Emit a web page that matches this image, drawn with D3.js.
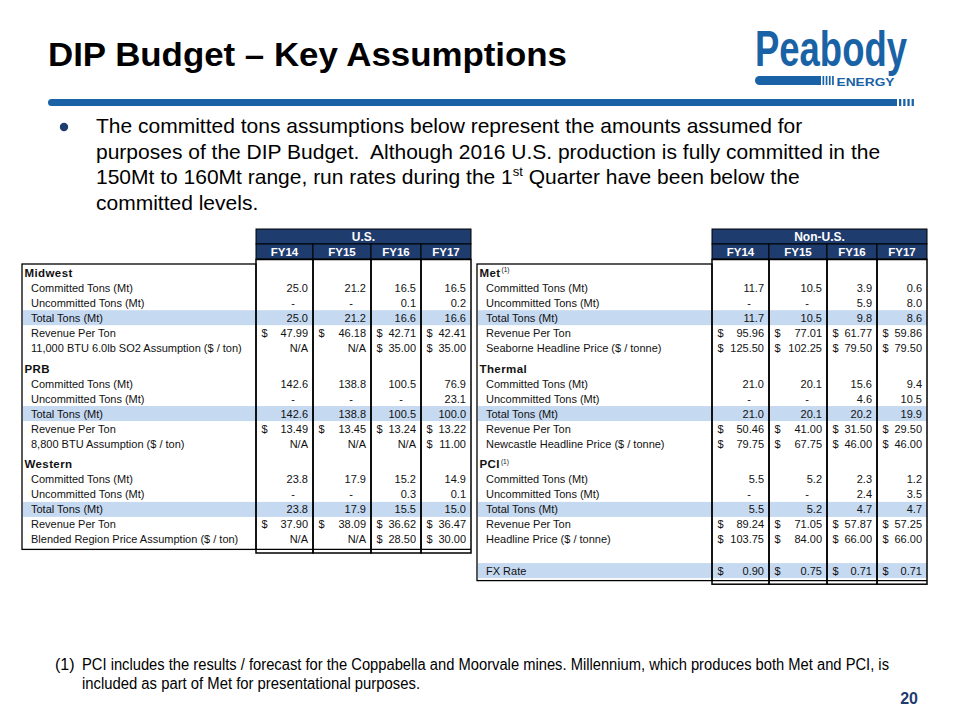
<!DOCTYPE html>
<html><head><meta charset="utf-8">
<script src="https://cdn.jsdelivr.net/npm/d3@7"></script>
<style>
body{margin:0;background:#fff}
svg{display:block}
text{font-family:"Liberation Sans",Arial,Helvetica,sans-serif;white-space:pre}
</style>
</head><body>
<script>
// ---------------- DATA ----------------
const years = ["FY14", "FY15", "FY16", "FY17"];
const tableTitles = ["U.S.", "Non-U.S."];

const usRegions = ["Midwest", "PRB", "Western"];
const usPriceLabels = ["11,000 BTU 6.0lb SO2 Assumption ($ / ton)", "8,800 BTU Assumption ($ / ton)", "Blended Region Price Assumption ($ / ton)"];
const midwestCommitted = [25.0, 21.2, 16.5, 16.5];
const midwestUncommitted = [0, 0, 0.1, 0.2];
const midwestTotal = [25.0, 21.2, 16.6, 16.6];
const midwestRevenue = [47.99, 46.18, 42.71, 42.41];
const midwestPrice = [null, null, 35.00, 35.00];
const prbCommitted = [142.6, 138.8, 100.5, 76.9];
const prbUncommitted = [0, 0, 0, 23.1];
const prbTotal = [142.6, 138.8, 100.5, 100.0];
const prbRevenue = [13.49, 13.45, 13.24, 13.22];
const prbPrice = [null, null, null, 11.00];
const westernCommitted = [23.8, 17.9, 15.2, 14.9];
const westernUncommitted = [0, 0, 0.3, 0.1];
const westernTotal = [23.8, 17.9, 15.5, 15.0];
const westernRevenue = [37.90, 38.09, 36.62, 36.47];
const westernPrice = [null, null, 28.50, 30.00];

const nonUsRegions = ["Met", "Thermal", "PCI"];
const nonUsNotes = ["(1)", "", "(1)"];
const nonUsPriceLabels = ["Seaborne Headline Price ($ / tonne)", "Newcastle Headline Price ($ / tonne)", "Headline Price ($ / tonne)"];
const metCommitted = [11.7, 10.5, 3.9, 0.6];
const metUncommitted = [0, 0, 5.9, 8.0];
const metTotal = [11.7, 10.5, 9.8, 8.6];
const metRevenue = [95.96, 77.01, 61.77, 59.86];
const metPrice = [125.50, 102.25, 79.50, 79.50];
const thermalCommitted = [21.0, 20.1, 15.6, 9.4];
const thermalUncommitted = [0, 0, 4.6, 10.5];
const thermalTotal = [21.0, 20.1, 20.2, 19.9];
const thermalRevenue = [50.46, 41.00, 31.50, 29.50];
const thermalPrice = [79.75, 67.75, 46.00, 46.00];
const pciCommitted = [5.5, 5.2, 2.3, 1.2];
const pciUncommitted = [0, 0, 2.4, 3.5];
const pciTotal = [5.5, 5.2, 4.7, 4.7];
const pciRevenue = [89.24, 71.05, 57.87, 57.25];
const pciPrice = [103.75, 84.00, 66.00, 66.00];
const fxRate = [0.90, 0.75, 0.71, 0.71];

const titleText = "DIP Budget \u2013 Key Assumptions";
const bulletLines = [
  ["The committed tons assumptions below represent the amounts assumed for"],
  ["purposes of the DIP Budget.  Although 2016 U.S. production is fully committed in the"],
  ["150Mt to 160Mt range, run rates during the 1", "st", " Quarter have been below the"],
  ["committed levels."]
];
const footnoteMark = "(1)";
const footnoteLines = [
  "PCI includes the results / forecast for the Coppabella and Moorvale mines. Millennium, which produces both Met and PCI, is",
  "included as part of Met for presentational purposes."
];
const pageNumber = "20";

// ---------------- LAYOUT / STYLE ----------------
const W = 960, H = 720;
const BLUE = "#1a62a6", NAVY = "#1f3c6e", BAND = "#c5d9f1";

const svg = d3.select("body").append("svg").attr("width", W).attr("height", H);

// Title
svg.append("text").attr("x", 48).attr("y", 66)
  .attr("font-size", 34).attr("font-weight", "bold").attr("fill", "#000")
  .attr("textLength", 519).attr("lengthAdjust", "spacingAndGlyphs")
  .text(titleText);

// Logo
const logo = svg.append("g");
const wordG = logo.append("g");
const word = wordG.append("text").attr("x", 0).attr("y", 0)
  .attr("font-size", 50).attr("font-weight", "bold").attr("fill", BLUE)
  .text("Peabody");
const natW = word.node().getComputedTextLength() || 208;
wordG.attr("transform", `translate(755,65.5) scale(${152 / natW},1)`);
logo.append("path").attr("fill", BLUE)
  .attr("d", "M759.5,76 H821 V85 H759.5 A4.5,4.5 0 0 1 759.5,76 Z");
d3.range(4).forEach(i => logo.append("rect").attr("x", 822.5 + i * 3.2).attr("y", 76)
  .attr("width", 1.7).attr("height", 9).attr("fill", BLUE));
logo.append("text").attr("x", 836.5).attr("y", 85.5)
  .attr("font-size", 11).attr("font-weight", "bold").attr("fill", BLUE)
  .attr("textLength", 58).attr("lengthAdjust", "spacingAndGlyphs")
  .text("ENERGY");

// Rule bar
svg.append("path").attr("fill", BLUE)
  .attr("d", "M51.5,99 H897 V106 H51.5 A3.5,3.5 0 0 1 51.5,99 Z");
d3.range(4).forEach(i => svg.append("rect").attr("x", 899 + i * 4.2).attr("y", 99)
  .attr("width", 2.3).attr("height", 7).attr("fill", BLUE));

// Bullet
svg.append("circle").attr("cx", 64).attr("cy", 127).attr("r", 4.2).attr("fill", NAVY);
const bulletY = d3.scaleLinear().domain([0, 1]).range([133, 158.5]);
bulletLines.forEach((parts, i) => {
  const t = svg.append("text").attr("x", 96).attr("y", bulletY(i))
    .attr("font-size", 21).attr("fill", "#000");
  parts.forEach((p, j) => {
    const ts = t.append("tspan").text(p);
    if (parts.length === 3 && j === 1) ts.attr("font-size", 13).attr("dy", -8);
    if (parts.length === 3 && j === 2) ts.attr("dy", 8);
  });
});

// ---------------- TABLES ----------------
function sectionRows(name, note, committed, uncommitted, total, revenue, priceLabel, price) {
  return [
    {type: "section", label: name, note: note},
    {type: "item", label: "Committed Tons (Mt)", values: committed, fmt: "tons"},
    {type: "item", label: "Uncommitted Tons (Mt)", values: uncommitted, fmt: "tons"},
    {type: "total", label: "Total Tons (Mt)", values: total, fmt: "tons"},
    {type: "item", label: "Revenue Per Ton", values: revenue, fmt: "usd"},
    {type: "item", label: priceLabel, values: price, fmt: "usd"}
  ];
}
const usRows = [].concat(
  sectionRows(usRegions[0], "", midwestCommitted, midwestUncommitted, midwestTotal, midwestRevenue, usPriceLabels[0], midwestPrice),
  sectionRows(usRegions[1], "", prbCommitted, prbUncommitted, prbTotal, prbRevenue, usPriceLabels[1], prbPrice),
  sectionRows(usRegions[2], "", westernCommitted, westernUncommitted, westernTotal, westernRevenue, usPriceLabels[2], westernPrice)
);
const nonUsRows = [].concat(
  sectionRows(nonUsRegions[0], nonUsNotes[0], metCommitted, metUncommitted, metTotal, metRevenue, nonUsPriceLabels[0], metPrice),
  sectionRows(nonUsRegions[1], nonUsNotes[1], thermalCommitted, thermalUncommitted, thermalTotal, thermalRevenue, nonUsPriceLabels[1], thermalPrice),
  sectionRows(nonUsRegions[2], nonUsNotes[2], pciCommitted, pciUncommitted, pciTotal, pciRevenue, nonUsPriceLabels[2], pciPrice),
  [{type: "spacer"}, {type: "total", label: "FX Rate", values: fxRate, fmt: "usd"}]
);

const colLeft = d3.scaleOrdinal(years, [0, 57, 115, 165]);
const colWidth = d3.scaleOrdinal(years, [57, 58, 50, 50]);
const colsWidth = 215;
const rowY = d3.scaleLinear().domain([0, 1]).range([272.7, 287.7]);
const sectionGap = 0.39;
const fmtTons = d3.format(".1f"), fmtUsd = d3.format(".2f");

function drawTable(title, rows, boxX, colsX) {
  const g = svg.append("g");
  let slot = 0, sec = -1;
  rows.forEach(r => {
    if (r.type === "section") sec++;
    r.y = rowY(slot + Math.max(sec, 0) * sectionGap + (r.label === "FX Rate" ? 0.08 : 0));
    slot++;
  });
  const lastY = rows[rows.length - 1].y;
  const boxTop = 264, boxBottom = lastY + 10;
  const colTop = 259.5, colBottom = boxBottom + 3.6;

  g.selectAll("rect.band").data(rows.filter(r => r.type === "total")).join("rect")
    .attr("x", boxX + 1).attr("y", r => r.y - 7.5)
    .attr("width", colsX + colsWidth - boxX - 1).attr("height", 15)
    .attr("fill", BAND);

  g.append("rect").attr("x", boxX).attr("y", boxTop)
    .attr("width", colsX - boxX).attr("height", boxBottom - boxTop)
    .attr("fill", "none").attr("stroke", "#000").attr("stroke-width", 1.3);

  g.append("rect").attr("x", colsX).attr("y", 229).attr("width", colsWidth).attr("height", 15)
    .attr("fill", NAVY).attr("stroke", "#000").attr("stroke-width", 1);
  g.append("text").attr("x", colsX + colsWidth / 2).attr("y", 240.6)
    .attr("text-anchor", "middle").attr("font-size", 12).attr("font-weight", "bold")
    .attr("fill", "#fff").text(title);
  g.selectAll("rect.fy").data(years).join("rect")
    .attr("x", d => colsX + colLeft(d)).attr("y", 244)
    .attr("width", d => colWidth(d)).attr("height", 15)
    .attr("fill", NAVY).attr("stroke", "#000").attr("stroke-width", 1);
  g.selectAll("text.fy").data(years).join("text")
    .attr("x", d => colsX + colLeft(d) + colWidth(d) / 2).attr("y", 255.6)
    .attr("text-anchor", "middle").attr("font-size", 11.5).attr("font-weight", "bold")
    .attr("fill", "#fff").text(d => d);

  g.selectAll("rect.col").data(years).join("rect")
    .attr("x", d => colsX + colLeft(d)).attr("y", colTop)
    .attr("width", d => colWidth(d)).attr("height", colBottom - colTop)
    .attr("fill", "none").attr("stroke", "#000").attr("stroke-width", 1.5);
  g.selectAll("line.colb").data(years).join("line")
    .attr("x1", d => colsX + colLeft(d)).attr("x2", d => colsX + colLeft(d) + colWidth(d))
    .attr("y1", boxBottom).attr("y2", boxBottom)
    .attr("stroke", "#000").attr("stroke-width", 1.3);

  rows.filter(r => r.label).forEach(r => {
    const t = g.append("text").attr("y", r.y + 4).attr("fill", "#111");
    if (r.type === "section") {
      t.attr("x", boxX + 2.5).attr("font-size", 11.5).attr("font-weight", "bold")
        .attr("letter-spacing", 0.4).text(r.label);
      if (r.note) t.append("tspan").attr("font-size", 6.5).attr("font-weight", "normal")
        .attr("dy", -4.5).attr("dx", 1).attr("letter-spacing", 0).text(r.note);
    } else {
      t.attr("x", boxX + 9).attr("font-size", 11).text(r.label);
    }
  });

  rows.filter(r => r.values).forEach(r => {
    years.forEach((yr, i) => {
      const v = r.values[i];
      const x0 = colsX + colLeft(yr), x1 = x0 + colWidth(yr);
      const base = r.y + 4;
      if (r.fmt === "tons") {
        if (v === 0) {
          g.append("text").attr("x", x1 - 18).attr("y", base).attr("text-anchor", "end")
            .attr("font-size", 11).attr("fill", "#111").text("-");
        } else {
          g.append("text").attr("x", x1 - 5).attr("y", base).attr("text-anchor", "end")
            .attr("font-size", 11).attr("fill", "#111").text(fmtTons(v));
        }
      } else {
        if (v === null) {
          g.append("text").attr("x", x1 - 5).attr("y", base).attr("text-anchor", "end")
            .attr("font-size", 11).attr("fill", "#111").text("N/A");
        } else {
          g.append("text").attr("x", x0 + 5.5).attr("y", base)
            .attr("font-size", 11).attr("fill", "#111").text("$");
          g.append("text").attr("x", x1 - 5).attr("y", base).attr("text-anchor", "end")
            .attr("font-size", 11).attr("fill", "#111").text(fmtUsd(v));
        }
      }
    });
  });
}

drawTable(tableTitles[0], usRows, 22, 256);
drawTable(tableTitles[1], nonUsRows, 477, 712);

// Footnote
svg.append("text").attr("x", 55).attr("y", 670).attr("font-size", 16).attr("fill", "#000")
  .text(footnoteMark);
const fnY = d3.scaleLinear().domain([0, 1]).range([670, 689]);
const fnWidths = [807, 338];
footnoteLines.forEach((l, i) => {
  svg.append("text").attr("x", 82).attr("y", fnY(i)).attr("font-size", 16).attr("fill", "#000")
    .attr("textLength", fnWidths[i]).attr("lengthAdjust", "spacingAndGlyphs").text(l);
});

// Page number
svg.append("text").attr("x", 918).attr("y", 704).attr("text-anchor", "end")
  .attr("font-size", 16).attr("font-weight", "bold").attr("fill", NAVY)
  .text(pageNumber);
</script>
</body></html>
